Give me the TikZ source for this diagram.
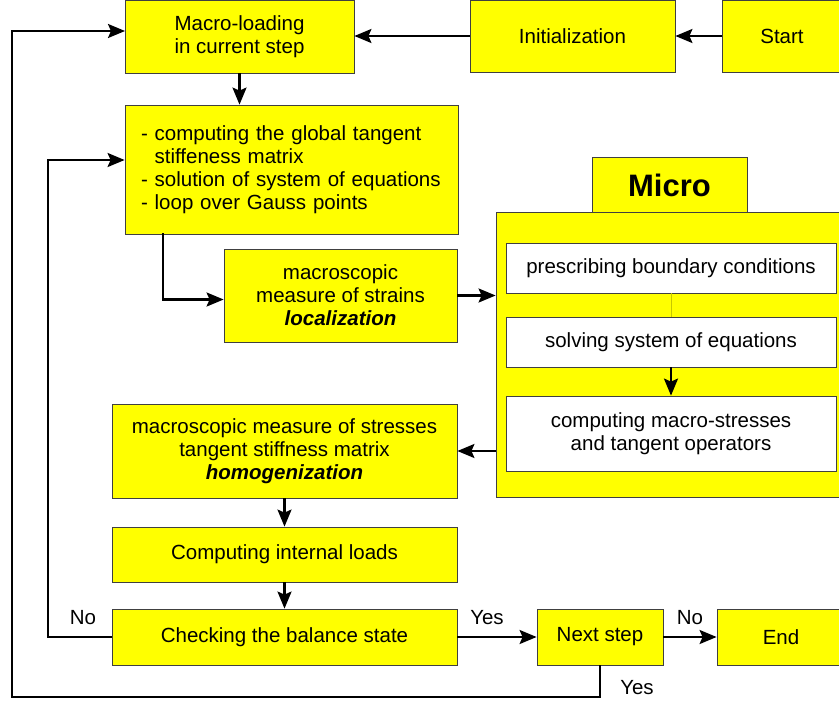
\documentclass[tikz,border=0pt]{standalone}
\usepackage{fontspec}
\setmainfont{Liberation Sans}
\usetikzlibrary{arrows.meta}
\definecolor{boxyellow}{HTML}{FFFF00}
\definecolor{olive2}{HTML}{C8C800}
\begin{document}
\begin{tikzpicture}[x=1pt,y=-1pt,
  box/.style={draw=black!75,line width=0.8pt,fill=boxyellow,inner sep=0pt,align=center,
    font=\fontsize{20.5pt}{23pt}\selectfont},
  wbox/.style={box,fill=white},
  arr/.style={line width=2.3pt,-{Stealth[length=17pt,width=14pt,inset=3pt]}},
  lbl/.style={font=\fontsize{20.5pt}{23pt}\selectfont,inner sep=0pt}]
\useasboundingbox (0,0) rectangle (839,704);
% main boxes
\node[box,minimum width=229pt,minimum height=73pt] (macro) at (239.5,36.5) {Macro-loading\\in current step};
\node[box,minimum width=205pt,minimum height=72pt] (init) at (572.5,36) {Initialization};
\node[box,minimum width=120pt,minimum height=72pt] (start) at (782,36) {Start};
\node[box,minimum width=333pt,minimum height=129pt,text width=301pt,align=left] (glob) at (291.5,169.5)
  {- computing the global tangent\\\phantom{- }stiffeness matrix\\- solution of system of equations\\- loop over Gauss points};
\node[box,minimum width=233pt,minimum height=93pt] (loc) at (340.5,295.5)
  {macroscopic\\measure of strains\\\textbf{\textit{localization}}};
\node[box,minimum width=345pt,minimum height=94pt] (homog) at (284.5,451)
  {macroscopic measure of stresses\\tangent stiffness matrix\\\textbf{\textit{homogenization}}};
\node[box,minimum width=345pt,minimum height=55pt] (intl) at (284.5,554.5) {Computing internal loads};
\node[box,minimum width=345pt,minimum height=56pt] (check) at (284.5,637) {Checking the balance state};
\node[box,minimum width=126pt,minimum height=56pt] (next) at (600,637) {Next step};
\node[box,minimum width=128pt,minimum height=56pt] (end) at (781,637) {End};
% micro
\node[box,minimum width=354pt,minimum height=285pt] (micro) at (673,354.5) {};
\node[box,minimum width=155pt,minimum height=55pt,font=\fontsize{31pt}{34pt}\selectfont\bfseries] (mtab) at (669.5,185) {Micro};
\node[wbox,minimum width=330pt,minimum height=50pt] (presc) at (671,268) {prescribing boundary conditions};
\node[wbox,minimum width=330pt,minimum height=50pt] (solv) at (671,342) {solving system of equations};
\node[wbox,minimum width=330pt,minimum height=75pt] (cstr) at (671,433.5) {computing macro-stresses\\and tangent operators};
% coordinates
\coordinate (lo) at (12,697);
\coordinate (mi) at (125,31);
\coordinate (li) at (48,160);
\coordinate (gs) at (163,233);
% connectors
\draw[arr] (start.west) -- (init.east);
\draw[arr] (init.west) -- (init.west -| macro.east);
\draw[arr] (macro.south) -- (macro.south |- glob.north);
\draw[arr] (gs) |- ([yshift=-4pt]loc.west);
\draw[arr] (loc.east) -- (loc.east -| micro.west);
\draw[arr] (micro.west |- homog.east) -- (homog.east);
\draw[arr] (homog.south) -- (intl.north);
\draw[arr] (intl.south) -- (check.north);
\draw[arr] (check.east) -- (next.west);
\draw[arr] (next.east) -- (end.west);
\draw[arr] (check.west) -| (li) -- (glob.west |- li);
\draw[arr] (next.south) |- (lo) |- (mi);
\draw[olive2,line width=0.8pt] (presc.south) -- (solv.north);
\draw[arr] (solv.south) -- (cstr.north);
% labels
\node[lbl] (l1) at (83,618) {No};
\node[lbl] (l2) at (487,618) {Yes};
\node[lbl] (l3) at (690,618) {No};
\node[lbl] (l4) at (637,688) {Yes};
\end{tikzpicture}
\end{document}
